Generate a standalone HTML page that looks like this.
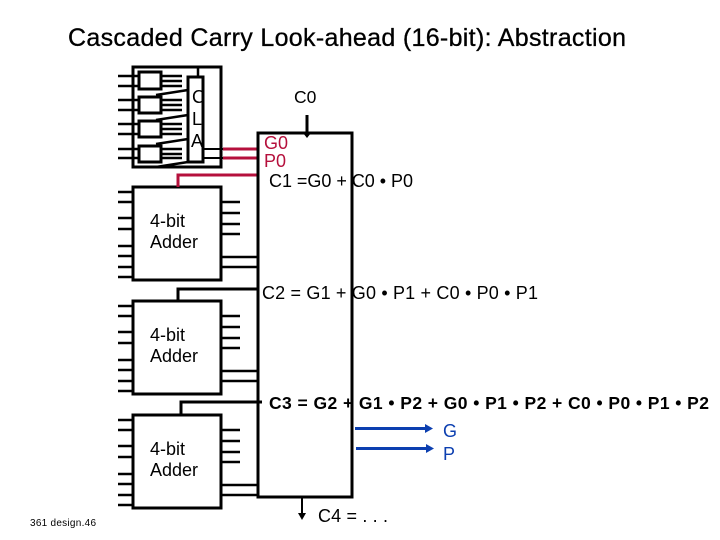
<!DOCTYPE html>
<html>
<head>
<meta charset="utf-8">
<style>
html,body{margin:0;padding:0;background:#fff}
svg{display:block}
text{font-family:"Liberation Sans",sans-serif;fill:#000}
</style>
</head>
<body>
<svg width="720" height="540" viewBox="0 0 720 540" xmlns="http://www.w3.org/2000/svg">
<defs>
<g id="adder">
  <rect x="133" y="187" width="88" height="93" fill="#fff" stroke="#000" stroke-width="3"/>
  <path d="M118 192H133M118 202H133M118 218H133M118 229H133M118 246H133M118 256H133M118 267H133M118 277H133M221 202H240M221 213H240M221 224H240M221 234H240M221 257H258M221 267H258" stroke="#000" stroke-width="2.500" fill="none"/>
  <text x="150" y="227" font-size="18">4-bit</text>
  <text x="150" y="248" font-size="18">Adder</text>
</g>
</defs>

<text x="68" y="46" font-size="25" textLength="558" lengthAdjust="spacing" stroke="#000" stroke-width="0.300">Cascaded Carry Look-ahead (16-bit): Abstraction</text>

<!-- Top CLA block -->
<rect x="133" y="67" width="88" height="100" fill="#fff" stroke="#000" stroke-width="3"/>
<path d="M118 76H139M118 86H139M118 100H139M118 110H139M118 124H139M118 134H139M118 149H139M118 158H139" stroke="#000" stroke-width="2.500"/>
<path d="M161 76H182M161 81H182M161 86H182M156 95L188 90M161 100H182M161 105H182M161 110H182M156 120L188 115M161 124H182M161 129H182M161 134H182M156 144L188 139M161 149H182M161 154H182M161 158H182M156 167L188 162" stroke="#000" stroke-width="2.500" fill="none"/>
<rect x="139" y="72" width="22" height="17" fill="#fff" stroke="#000" stroke-width="3"/>
<rect x="139" y="97" width="22" height="16" fill="#fff" stroke="#000" stroke-width="3"/>
<rect x="139" y="121" width="22" height="16" fill="#fff" stroke="#000" stroke-width="3"/>
<rect x="139" y="146" width="22" height="16" fill="#fff" stroke="#000" stroke-width="3"/>
<path d="M198 67V77" stroke="#000" stroke-width="2.500"/>
<rect x="188" y="77" width="15" height="85" fill="#fff" stroke="#000" stroke-width="3"/>
<text x="192" y="103" font-size="18">C</text>
<text x="192" y="125" font-size="18">L</text>
<text x="191" y="147" font-size="18">A</text>
<path d="M203 149H223M203 158H223" stroke="#000" stroke-width="2"/>

<!-- Adders -->
<use href="#adder"/>
<use href="#adder" y="114"/>
<use href="#adder" y="228"/>

<!-- Carry links -->
<path d="M178 187V175H258" stroke="#b5103c" stroke-width="3" fill="none"/>
<path d="M223 149H258M223 158H258" stroke="#b5103c" stroke-width="3" fill="none"/>
<path d="M178 301V289H258" stroke="#000" stroke-width="3" fill="none"/>
<path d="M181 415V402H262" stroke="#000" stroke-width="3" fill="none"/>

<!-- Main box -->
<rect x="258" y="133" width="94" height="364" fill="none" stroke="#000" stroke-width="3"/>

<!-- C0 -->
<path d="M307 115V133" stroke="#000" stroke-width="3"/>
<path d="M303 133H311L307 138Z" fill="#000"/>
<text x="294" y="103" font-size="17.500">C0</text>
<text x="264" y="149" font-size="18" style="fill:#b5103c">G0</text>
<text x="264" y="167" font-size="18" style="fill:#b5103c">P0</text>

<!-- Equations -->
<text x="269" y="187" font-size="18" textLength="144" lengthAdjust="spacing">C1 =G0 + C0 • P0</text>
<text x="262" y="299" font-size="18" textLength="276" lengthAdjust="spacing">C2 = G1 + G0 • P1 + C0 • P0 • P1</text>
<text x="269" y="409" font-size="17.500" font-weight="bold" textLength="440" lengthAdjust="spacing">C3 = G2 + G1 • P2 + G0 • P1 • P2 + C0 • P0 • P1 • P2</text>

<!-- G / P outputs -->
<path d="M355 428.500H428" stroke="#0c3fb0" stroke-width="3"/>
<path d="M425 424L433 428.500L425 433Z" fill="#0c3fb0"/>
<path d="M356 448.500H429" stroke="#0c3fb0" stroke-width="3"/>
<path d="M426 444L434 448.500L426 453Z" fill="#0c3fb0"/>
<text x="443" y="437" font-size="18" style="fill:#0c3fb0">G</text>
<text x="443" y="460" font-size="18" style="fill:#0c3fb0">P</text>

<!-- C4 -->
<path d="M302 497V515" stroke="#000" stroke-width="2"/>
<path d="M298 513H306L302 520Z" fill="#000"/>
<text x="318" y="522" font-size="18" textLength="70" lengthAdjust="spacing">C4 = . . .</text>

<text x="30" y="526" font-size="10" textLength="66" lengthAdjust="spacing">361 design.46</text>
</svg>
</body>
</html>
